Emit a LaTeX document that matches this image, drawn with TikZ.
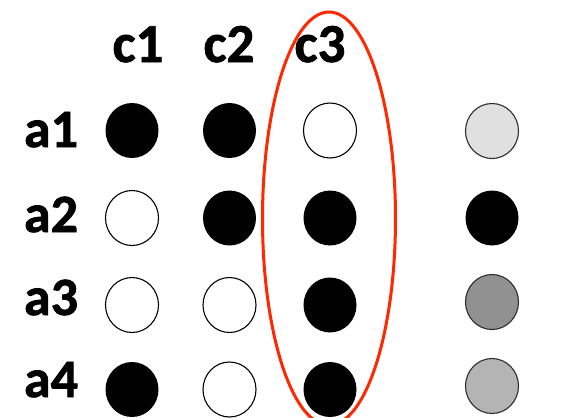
\documentclass[tikz,border=0pt]{standalone}
\usepackage{fontspec}
\setmainfont{Carlito}
\newfontfamily\heavyfont{Carlito}[BoldFeatures={FakeBold=1.4}]
\usetikzlibrary{shapes.geometric}
\definecolor{ovalred}{RGB}{255,40,0}
\definecolor{lightg}{RGB}{224,224,224}
\definecolor{midg}{RGB}{180,180,180}
\definecolor{darkg}{RGB}{145,145,145}
\definecolor{rimg}{RGB}{45,45,45}
\tikzset{
  dot/.style={ellipse, minimum width=53pt, minimum height=55pt, inner sep=0pt},
  on/.style={dot, fill=black},
  off/.style={dot, draw=black, line width=1.1pt, fill=white},
  shade/.style={dot, draw=rimg, line width=1.1pt, fill=#1},
  rowlab/.style={font=\fontsize{54}{54}\heavyfont\bfseries\selectfont, anchor=base, inner sep=0pt},
  collab/.style={font=\fontsize{55}{55}\heavyfont\bfseries\selectfont, anchor=base, inner sep=0pt},
  oval/.style={draw=ovalred, line width=3pt}
}
\begin{document}
\begin{tikzpicture}[x=1pt,y=-1pt]
\useasboundingbox (0,0) rectangle (571,418);
\clip (0,0) rectangle (571,418);
% column labels
\node[collab] (c1) at (138,62) {c1};
\node[collab] (c2) at (229,62) {c2};
\node[collab] (c3) at (320,62) {c3};
% row labels
\node[rowlab] (a1) at (51,147) {a1};
\node[rowlab] (a2) at (51,232) {a2};
\node[rowlab] (a3) at (51,315) {a3};
\node[rowlab] (a4) at (51,397) {a4};
% row a1
\node[on]  (p11) at (132,130.5) {};
\node[on]  (p12) at (229.5,130.5) {};
\node[off] (p13) at (330,130.5) {};
\node[shade=lightg] (r1) at (492,131) {};
% row a2
\node[off] (p21) at (132,218) {};
\node[on]  (p22) at (229.5,218) {};
\node[on]  (p23) at (330,218) {};
\node[on]  (r2) at (492,218) {};
% row a3
\node[off] (p31) at (132,305) {};
\node[off] (p32) at (229.5,305) {};
\node[on]  (p33) at (330,305) {};
\node[shade=darkg] (r3) at (492,302) {};
% row a4
\node[on]  (p41) at (132,389.5) {};
\node[off] (p42) at (229.5,389.5) {};
\node[on]  (p43) at (330,389.5) {};
\node[shade=midg] (r4) at (492,386) {};
% red oval around column c3
\draw[oval] (329,218.6) ellipse [x radius=66.5, y radius=206.6];
\end{tikzpicture}
\end{document}
